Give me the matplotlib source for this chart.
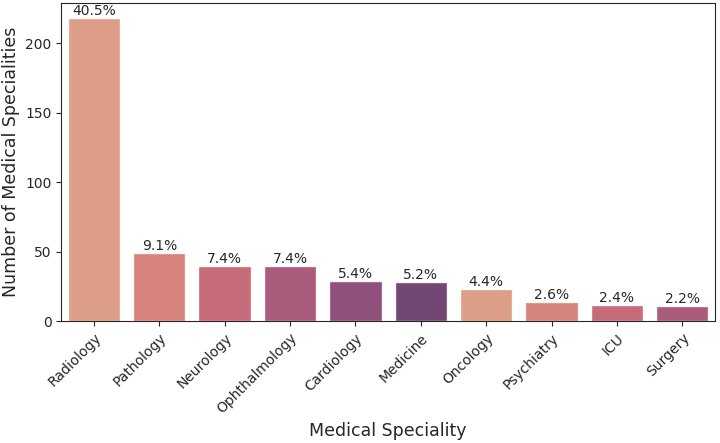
import matplotlib
matplotlib.use("Agg")
import matplotlib.pyplot as plt
import seaborn as sns

specialities = ["Radiology", "Pathology", "Neurology", "Ophthalmology", "Cardiology",
                "Medicine", "Oncology", "Psychiatry", "ICU", "Surgery"]
counts = [218, 49, 40, 40, 29, 28, 23, 14, 12, 11]
pct_labels = ["40.5%", "9.1%", "7.4%", "7.4%", "5.4%", "5.2%", "4.4%", "2.6%", "2.4%", "2.2%"]

sns.set_style("ticks")

base = sns.color_palette("flare", 6)
colors = [base[i % 6] for i in range(len(specialities))]

fig, ax = plt.subplots(figsize=(7.2, 4.43), dpi=100)
sns.barplot(x=specialities, y=counts, hue=specialities, palette=colors,
            legend=False, alpha=0.9, ax=ax)

for container, lab in zip(ax.containers, pct_labels):
    ax.bar_label(container, labels=[lab], fontsize=10, color="#262626", padding=0)

ax.set_xlabel("Medical Speciality", fontsize=12.5)
ax.set_ylabel("Number of Medical Specialities", fontsize=12.5)
plt.xticks(rotation=45, ha="right", rotation_mode="anchor")
ax.tick_params(labelsize=10)

fig.subplots_adjust(left=0.085, right=0.993, top=0.993, bottom=0.275)
fig.savefig("out.png", dpi=100)
